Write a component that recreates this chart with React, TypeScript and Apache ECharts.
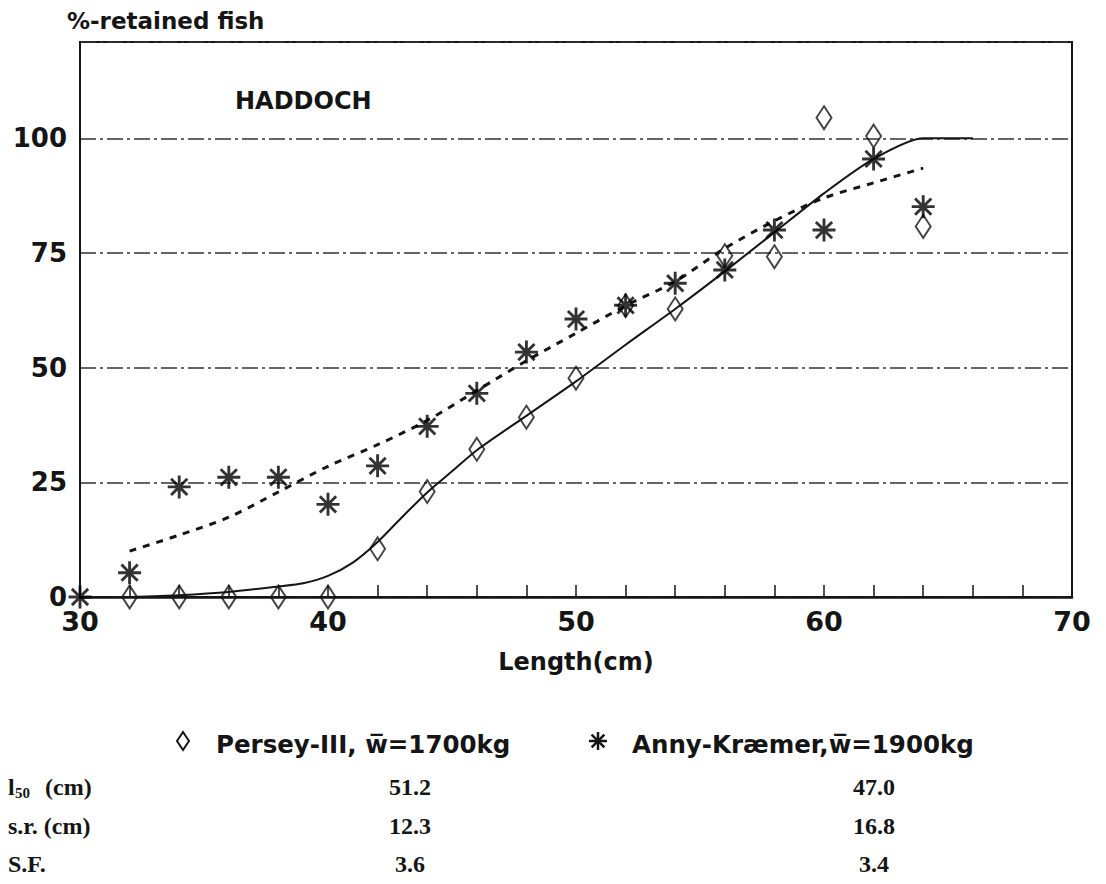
import React, { useEffect, useRef } from "react";
import * as echarts from "echarts";

// ---- data ----
const perseyLengths = [32, 34, 36, 38, 40, 42, 44, 46, 48, 50, 52, 54, 56, 58, 60, 62, 64];
const perseyRetained = [0, 0, 0, 0, 0, 10.5, 23, 32.2, 39.2, 47.7, 63.5, 62.8, 74.4, 74.2, 104.5, 100.5, 80.8];

const annyLengths = [30, 32, 34, 36, 38, 40, 42, 44, 46, 48, 50, 52, 54, 56, 58, 60, 62, 64];
const annyRetained = [0, 5.3, 24, 26.1, 26.1, 20.2, 28.6, 37.2, 44.4, 53.4, 60.6, 63.6, 68.4, 71.3, 80, 80, 95.5, 85.1];

// fitted curves
const perseyFitX = [32, 34, 36, 38, 39, 40, 41, 42, 43, 44, 45, 46, 48, 50, 52, 54, 56, 58, 60, 62, 64, 66];
const perseyFitY = [0, 0.4, 1.1, 2.3, 3, 4.6, 7.5, 12, 17.5, 22.8, 27.4, 32, 39.5, 47, 55, 62.8, 71, 79.5, 88, 95.5, 100, 100];

const annyFitX = [32, 34, 36, 38, 40, 42, 44, 46, 48, 50, 52, 54, 56, 58, 60, 62, 64];
const annyFitY = [10, 13.5, 17.4, 22.9, 28.5, 33.2, 38.5, 45, 51.5, 57.5, 63.5, 68.8, 76, 82, 87, 90.3, 93.5];

const xTickValues = [30, 40, 50, 60, 70];
const yTickValues = [0, 25, 50, 75, 100];

const tableRows = ["s.r. (cm)", "S.F."];
const perseyStats = ["51.2", "12.3", "3.6"];
const annyStats = ["47.0", "16.8", "3.4"];

// asterisk symbol outline
const asteriskPath = (() => {
  const c = 50, L = 48, w = 6;
  const r = w / Math.sin(Math.PI / 8);
  const pts: string[] = [];
  for (let k = 0; k < 8; k++) {
    const t = (k * Math.PI) / 4;
    const ux = Math.cos(t), uy = Math.sin(t);
    const nx = -Math.sin(t), ny = Math.cos(t);
    pts.push(`${(c + L * ux - w * nx).toFixed(2)} ${(c + L * uy - w * ny).toFixed(2)}`);
    pts.push(`${(c + L * ux + w * nx).toFixed(2)} ${(c + L * uy + w * ny).toFixed(2)}`);
    const b = t + Math.PI / 8;
    pts.push(`${(c + r * Math.cos(b)).toFixed(2)} ${(c + r * Math.sin(b)).toFixed(2)}`);
  }
  return "path://M" + pts.join(" L") + " Z";
})();

const SANS = '"DejaVu Sans", "Liberation Sans", sans-serif';
const SERIF = '"Liberation Serif", "DejaVu Serif", serif';
const INK = "#151515";

export default function App() {
  const ref = useRef<HTMLDivElement>(null);

  useEffect(() => {
    if (!ref.current) return;
    const chart = echarts.init(ref.current, undefined, { renderer: "svg" });

    const ax = 598, ay = 741, aL = 9;
    const legendAsterisk = [0, 45, 90, 135].map((deg) => {
      const t = (deg * Math.PI) / 180;
      return {
        type: "line",
        shape: {
          x1: ax - aL * Math.cos(t),
          y1: ay - aL * Math.sin(t),
          x2: ax + aL * Math.cos(t),
          y2: ay + aL * Math.sin(t),
        },
        style: { stroke: INK, lineWidth: 2.5 },
      };
    });

    const rowY = [787, 826, 864];
    const tableFont = `bold 24px ${SERIF}`;

    chart.setOption({
      animation: false,
      backgroundColor: "#ffffff",
      grid: {
        left: 80,
        right: 34,
        top: 42,
        bottom: 287,
        show: true,
        borderColor: INK,
        borderWidth: 2,
      },
      xAxis: {
        type: "value",
        min: 30,
        max: 70,
        interval: 10,
        axisLine: { show: true, onZero: false, lineStyle: { color: INK, width: 2.5 } },
        axisTick: { show: true, inside: true, length: 12, lineStyle: { color: INK, width: 1.5 } },
        minorTick: { show: true, splitNumber: 5, length: 12, lineStyle: { color: INK, width: 1.5 } },
        splitLine: { show: false },
        axisLabel: {
          margin: 11,
          fontFamily: SANS,
          fontWeight: "bold",
          fontSize: 27,
          color: INK,
          formatter: (v: number) => (xTickValues.includes(v) ? String(v) : ""),
        },
      },
      yAxis: {
        type: "value",
        min: 0,
        max: 121,
        interval: 25,
        axisLine: { show: true, lineStyle: { color: INK, width: 2 } },
        axisTick: { show: false },
        splitLine: {
          show: true,
          lineStyle: { color: "#333", width: 1.5, type: [16, 4, 3, 4] },
        },
        axisLabel: {
          margin: 13,
          fontFamily: SANS,
          fontWeight: "bold",
          fontSize: 26,
          color: INK,
          formatter: (v: number) => (yTickValues.includes(v) ? String(v) : ""),
        },
      },
      series: [
        {
          name: "Persey fit",
          type: "line",
          data: perseyFitX.map((x, i) => [x, perseyFitY[i]]),
          showSymbol: false,
          smooth: 0.25,
          lineStyle: { color: INK, width: 2 },
          z: 2,
        },
        {
          name: "Anny fit",
          type: "line",
          data: annyFitX.map((x, i) => [x, annyFitY[i]]),
          showSymbol: false,
          smooth: 0.3,
          lineStyle: { color: INK, width: 3, type: [7, 7] },
          z: 2,
        },
        {
          name: "Persey-III",
          type: "scatter",
          data: perseyLengths.map((x, i) => [x, perseyRetained[i]]),
          symbol: "diamond",
          symbolSize: [15, 23],
          itemStyle: { color: "rgba(255,255,255,0)", borderColor: INK, borderWidth: 2 },
          z: 3,
        },
        {
          name: "Anny-Kræmer",
          type: "scatter",
          data: annyLengths.map((x, i) => [x, annyRetained[i]]),
          symbol: asteriskPath,
          symbolSize: 23,
          itemStyle: { color: "#000" },
          z: 4,
        },
      ],
      graphic: [
        {
          type: "text",
          x: 67,
          y: 21,
          style: {
            text: "%-retained fish",
            font: `bold 23px ${SANS}`,
            fill: INK,
            textAlign: "left",
            textVerticalAlign: "middle",
          },
        },
        {
          type: "text",
          x: 235,
          y: 101,
          style: {
            text: "HADDOCH",
            font: `bold 24px ${SANS}`,
            fill: INK,
            textAlign: "left",
            textVerticalAlign: "middle",
          },
        },
        {
          type: "text",
          x: 576,
          y: 662,
          style: {
            text: "Length(cm)",
            font: `bold 24px ${SANS}`,
            fill: INK,
            textAlign: "center",
            textVerticalAlign: "middle",
          },
        },
        // legend
        {
          type: "polygon",
          shape: { points: [[183, 732], [189, 741], [183, 750], [177, 741]] },
          style: { fill: "none", stroke: INK, lineWidth: 2 },
        },
        {
          type: "text",
          x: 216,
          y: 744,
          style: {
            text: "Persey-III, w\u0305=1700kg",
            font: `bold 24.5px ${SANS}`,
            fill: INK,
            textAlign: "left",
            textVerticalAlign: "middle",
          },
        },
        ...legendAsterisk,
        {
          type: "text",
          x: 632,
          y: 744,
          style: {
            text: "Anny-Kræmer,w\u0305=1900kg",
            font: `bold 24.5px ${SANS}`,
            fill: INK,
            textAlign: "left",
            textVerticalAlign: "middle",
          },
        },
        // table
        {
          type: "text",
          x: 8,
          y: rowY[0],
          style: { text: "l", font: tableFont, fill: INK, textAlign: "left", textVerticalAlign: "middle" },
        },
        {
          type: "text",
          x: 15,
          y: rowY[0] + 6,
          style: { text: "50", font: `bold 15px ${SERIF}`, fill: INK, textAlign: "left", textVerticalAlign: "middle" },
        },
        {
          type: "text",
          x: 45,
          y: rowY[0],
          style: { text: "(cm)", font: tableFont, fill: INK, textAlign: "left", textVerticalAlign: "middle" },
        },
        ...tableRows.map((t, i) => ({
          type: "text",
          x: 8,
          y: rowY[i + 1],
          style: { text: t, font: tableFont, fill: INK, textAlign: "left", textVerticalAlign: "middle" },
        })),
        ...perseyStats.map((t, i) => ({
          type: "text",
          x: 410,
          y: rowY[i],
          style: { text: t, font: tableFont, fill: INK, textAlign: "center", textVerticalAlign: "middle" },
        })),
        ...annyStats.map((t, i) => ({
          type: "text",
          x: 874,
          y: rowY[i],
          style: { text: t, font: tableFont, fill: INK, textAlign: "center", textVerticalAlign: "middle" },
        })),
      ],
    });

    return () => chart.dispose();
  }, []);

  return (
    <div
      ref={ref}
      style={{ position: "fixed", left: 0, top: 0, width: 1106, height: 884, background: "#fff" }}
    />
  );
}
